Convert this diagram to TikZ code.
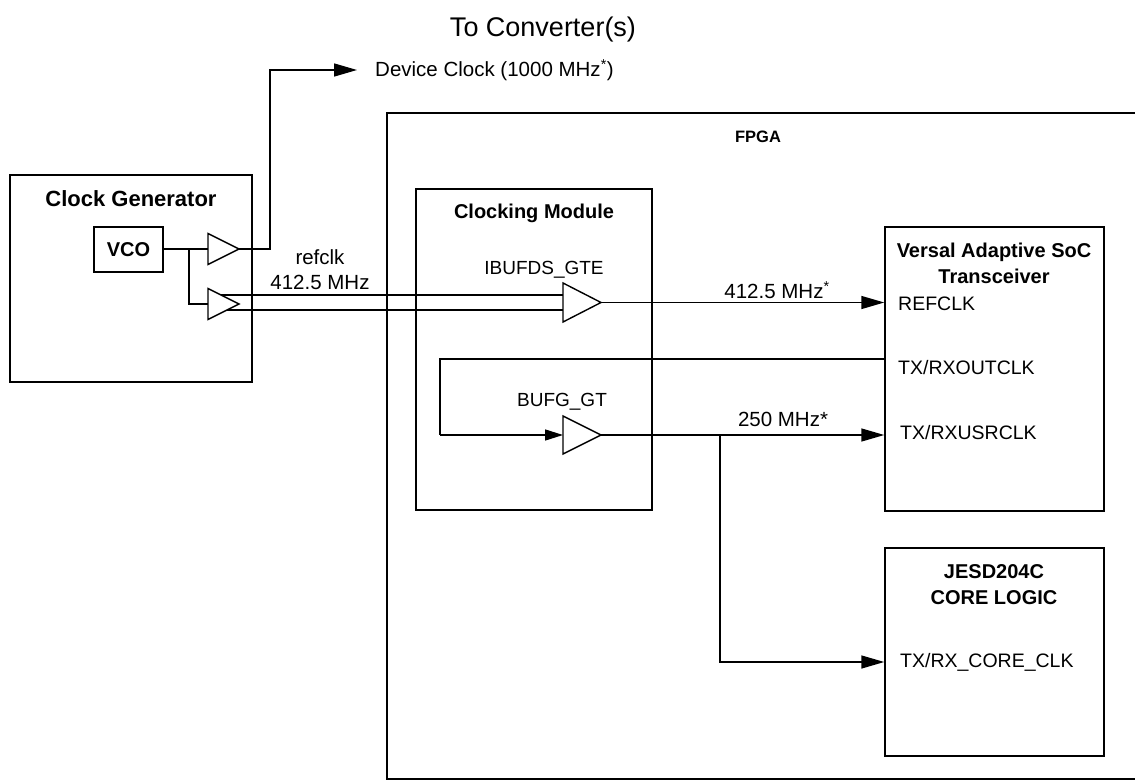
\documentclass[tikz,border=0pt]{standalone}
\usepackage{fontspec}
\setmainfont{Liberation Sans}
\usepackage{tikz}
\usetikzlibrary{arrows.meta,calc,positioning}

% buffer triangle: name, left x, centre y, length, half height
\newcommand{\drawbuf}[5]{%
  \draw[bufline] (#2,#3-#5) -- (#2+#4,#3) -- (#2,#3+#5) -- cycle;
  \coordinate (#1-in) at (#2,#3);
  \coordinate (#1-out) at (#2+#4,#3);}

\tikzset{
  box/.style={draw, line width=1.5pt, inner sep=0pt},
  bufline/.style={line width=1.4pt, line join=miter},
  sig/.style={line width=1.5pt},
  arr/.style={sig, -{Triangle[length=23pt,width=13pt]}},
  smallarr/.style={sig, -{Triangle[length=18pt,width=11pt]}},
  title/.style={font=\bfseries\fontsize{20}{26}\selectfont, align=center, inner sep=0pt},
  lbl/.style={font=\fontsize{20.5}{25}\selectfont, align=center, inner sep=0pt},
  port/.style={font=\fontsize{19.5}{24}\selectfont, anchor=west, inner sep=0pt}
}

\begin{document}
\begin{tikzpicture}[x=1pt,y=-1pt]
  \useasboundingbox (0,0) rectangle (1135,781);

  % boxes
  \node[box, line width=1.2pt, minimum width=760, minimum height=666] (fpga) at (767,446) {};
  \node[box, minimum width=242, minimum height=207] (clkgen) at (131,278.5) {};
  \node[box, minimum width=69, minimum height=45] (vco) at (128.5,249.5) {};
  \node[box, minimum width=236, minimum height=321] (clkmod) at (534,349.5) {};
  \node[box, minimum width=219, minimum height=284] (versal) at (994.5,369) {};
  \node[box, minimum width=219, minimum height=208] (jesd) at (994.5,652) {};

  % titles
  \node[lbl, font=\fontsize{27}{30}\selectfont] (conv) at (543,30) {To Converter(s)};
  \node[title, font=\bfseries\fontsize{22}{26}\selectfont] (clkgen-t) at (131,199) {Clock Generator};
  \node[title] (vco-t) at (vco) {VCO};
  \node[title, font=\bfseries\fontsize{16.5}{20}\selectfont] (fpga-t) at (758,137) {FPGA};
  \node[title] (clkmod-t) at (534,213) {Clocking Module};
  \node[title] (versal-t) at (994,263) {Versal Adaptive SoC\\Transceiver};
  \node[title] (jesd-t) at (994,584.5) {JESD204C\\CORE LOGIC};

  % buffers
  \drawbuf{devbuf}{208}{249}{31}{15.5}
  \drawbuf{refbuf}{208}{304}{31}{15.5}
  \drawbuf{ibuf}{563}{302.5}{38}{19.5}
  \drawbuf{bufg}{563}{435}{38}{19}
  \node[lbl, font=\fontsize{19}{24}\selectfont] (ibuf-t) at (544,270) {IBUFDS\_GTE};
  \node[lbl, font=\fontsize{19}{24}\selectfont] (bufg-t) at (562,402) {BUFG\_GT};

  % ports
  \node[port] (refclk-p) at (898,304) {REFCLK};
  \node[port] (outclk-p) at (898,368) {TX/RXOUTCLK};
  \node[port] (usrclk-p) at (900,433) {TX/RXUSRCLK};
  \node[port] (coreclk-p) at (900,662) {TX/RX\_CORE\_CLK};

  % clock generator wiring
  \coordinate (vsplit) at (189,249);
  \draw[sig] (vco.east |- devbuf-in) -- (devbuf-in);
  \draw[sig] (vsplit) |- (refbuf-in);
  \coordinate (devturn) at (270,70);
  \coordinate (devtip) at (357,70);
  \draw[arr] (devbuf-out) -| (devturn) -- (devtip);
  \node[lbl, anchor=west] (devclk) at (375,70) {Device Clock (1000 MHz\textsuperscript{*})};

  % differential refclk pair
  \draw[sig] (221,295) -- (ibuf-in |- 0,295);
  \draw[sig] (227,310) -- (ibuf-in |- 0,310);
  \node[lbl] (refclk-t) at (320,269.5) {refclk\\412.5 MHz};

  % fpga clocks
  \draw[arr] (ibuf-out) -- (ibuf-out -| versal.west);
  \node[lbl] (ref-f) at (777,290) {412.5 MHz\textsuperscript{*}};
  \coordinate (fbturn) at (440,435);
  \draw[sig] (versal.west |- 0,359) -| (fbturn);
  \draw[smallarr] (fbturn) -- (bufg-in);
  \draw[arr] (bufg-out) -- (bufg-out -| versal.west);
  \node[lbl] (usr-f) at (783,419) {250 MHz*};
  \coordinate (usrsplit) at (720,435);
  \draw[arr] (usrsplit) |- (jesd.west |- coreclk-p);
\end{tikzpicture}
\end{document}
